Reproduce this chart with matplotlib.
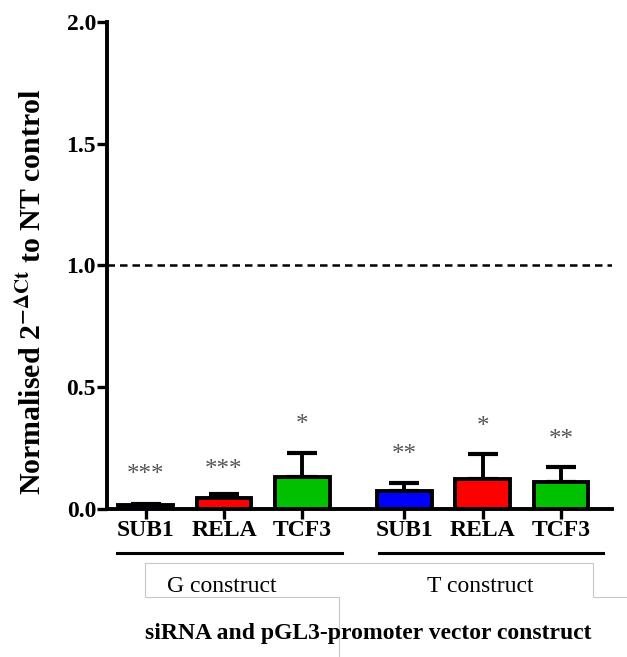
import matplotlib
matplotlib.use("Agg")
import matplotlib.pyplot as plt
from matplotlib.lines import Line2D

# Knockdown results per siRNA, for each promoter construct
genes = ["SUB1", "RELA", "TCF3", "SUB1", "RELA", "TCF3"]
constructs = ["G construct", "T construct"]
means = [0.015, 0.045, 0.133, 0.075, 0.123, 0.112]
errors = [0.006, 0.015, 0.097, 0.033, 0.103, 0.062]
stars = ["***", "***", "*", "**", "*", "**"]
star_heights = [0.139, 0.16, 0.345, 0.221, 0.336, 0.283]
bar_colors = ["#0000FF", "#FF0000", "#00C000", "#0000FF", "#FF0000", "#00C000"]
yticks = [0.0, 0.5, 1.0, 1.5, 2.0]

plt.rcParams["font.family"] = ["Liberation Serif", "DejaVu Serif"]
plt.rcParams["mathtext.fontset"] = "stix"

fig = plt.figure(figsize=(6.27, 6.57), dpi=100)
ax = fig.add_axes([0.171, 0.2253, 0.805, 0.7412])

pos = [0, 1, 2, 3.3, 4.3, 5.3]
ax.bar(pos, means, width=0.7, color=bar_colors, edgecolor="black",
       linewidth=2.8, zorder=3)
ax.errorbar(pos, means, yerr=[[0] * len(means), errors], fmt="none",
            ecolor="black", elinewidth=2.8, capsize=11, capthick=3.0, zorder=2)

for x, h, s in zip(pos, star_heights, stars):
    ax.text(x, h, s, ha="center", va="center", fontsize=18, color="#555555")

ax.axhline(1.0, color="black", linestyle=(0, (3, 2)), linewidth=1.8, zorder=1)

ax.set_xlim(-0.49, 5.95)
ax.set_ylim(0, 2.0)
ax.set_yticks(yticks)
ax.set_yticklabels([f"{v:.1f}" for v in yticks], fontsize=17, fontweight="bold")
ax.set_xticks(pos)
ax.set_xticklabels(genes, fontsize=17, fontweight="bold")
ax.tick_params(axis="both", width=2.4, length=7, direction="out")
ax.tick_params(axis="x", pad=1)
ax.tick_params(axis="y", pad=1)

for side in ["top", "right"]:
    ax.spines[side].set_visible(False)
for side in ["left", "bottom"]:
    ax.spines[side].set_linewidth(2.8)

fx = lambda px: px / 627
fy = lambda py: 1 - py / 657

fig.text(fx(32), fy(292), r"Normalised 2$^{\mathbf{-\Delta Ct}}$ to NT control",
         rotation=90, ha="center", va="center", fontsize=21.5, fontweight="bold")

# Group brackets under the tick labels
fig.add_artist(Line2D([fx(117), fx(342)], [fy(553)] * 2, color="black", linewidth=2.2))
fig.add_artist(Line2D([fx(379), fx(603)], [fy(553)] * 2, color="black", linewidth=2.2))

# Thin grey frame around the construct labels
grey = "#c8c8c8"
fig.add_artist(Line2D([fx(145), fx(593), fx(593), fx(627)],
                      [fy(563), fy(563), fy(597), fy(597)], color=grey, linewidth=0.8))
fig.add_artist(Line2D([fx(145), fx(145), fx(339), fx(339)],
                      [fy(563), fy(597), fy(597), fy(657)], color=grey, linewidth=0.8))

fig.text(fx(222), fy(586), constructs[0], ha="center", va="center", fontsize=17)
fig.text(fx(480), fy(586), constructs[1], ha="center", va="center", fontsize=17)
fig.text(fx(368), fy(633), "siRNA and pGL3-promoter vector construct",
         ha="center", va="center", fontsize=17, fontweight="bold")

fig.savefig("out.png", dpi=100)
